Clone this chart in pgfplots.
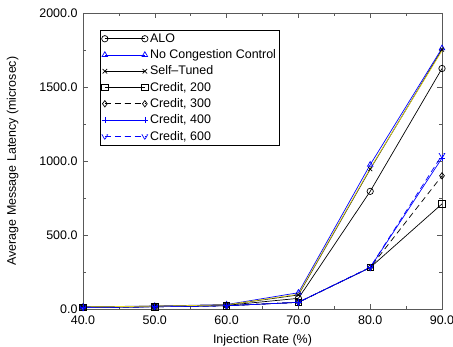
\documentclass[border=0pt]{standalone}
\usepackage{pgfplots}
\pgfplotsset{compat=1.18}
\usepackage{fontspec}
\setmainfont{Liberation Sans}
\begin{document}
\begin{tikzpicture}
\begin{axis}[
  scale only axis, width=359bp, height=296bp,
  xmin=40, xmax=90, ymin=0, ymax=2000,
  xtick={40,50,60,70,80,90}, ytick={0,500,1000,1500,2000},
  minor x tick num=1, minor y tick num=1,
  tick align=inside, tick pos=both,
  major tick length=5bp, minor tick length=3bp,
  axis line style={gray!70!black, line width=0.9pt},
  tick style={gray!70!black, line width=0.6pt},
  xticklabel style={yshift=-3bp, /pgf/number format/.cd, fixed, fixed zerofill, precision=1},
  yticklabel style={xshift=-2bp, /pgf/number format/.cd, fixed, fixed zerofill, precision=1, 1000 sep={}},
  /pgf/number format/assume math mode=true,
  font=\fontsize{12.5}{14}\selectfont,
  xlabel={Injection Rate (\%)}, ylabel={Average Message Latency (microsec)},
  xlabel style={yshift=-3bp}, ylabel style={yshift=14bp},
  legend cell align=left,
  legend style={at={(0.047,0.943)}, anchor=north west, draw=black, line width=0.6pt, inner sep=1.5pt, row sep=1.8pt, font=\fontsize{12.5}{14}\selectfont, /tikz/every even column/.append style={column sep=1pt}},
  legend image code/.code={\draw[mark repeat=2, mark phase=1, mark size=3.2pt, #1] plot coordinates {(0bp,0bp)(20bp,0bp)(40bp,0bp)};},
  every axis plot/.append style={line width=0.7pt, mark size=3.2pt, mark options={solid, line width=0.7pt, fill=none}},
]
\addplot[black, mark=o] coordinates {(40,12)(50,17)(60,25)(70,72)(80,795)(90,1625)};
\addlegendentry{ALO}
\addplot[blue, mark=triangle] coordinates {(40,15)(50,20)(60,30)(70,110)(80,975)(90,1762)};
\addlegendentry{No Congestion Control}
\addplot[black, mark=x, mark size=2.8pt] coordinates {(40,14)(50,19)(60,28)(70,95)(80,945)(90,1752)};
\addlegendentry{Self--Tuned}
\addplot[black, mark=square] coordinates {(40,10)(50,15)(60,22)(70,45)(80,280)(90,710)};
\addlegendentry{Credit, 200}
\addplot[black, dash pattern=on 6pt off 4pt, mark=diamond] coordinates {(40,10)(50,15)(60,22)(70,45)(80,280)(90,900)};
\addlegendentry{Credit, 300}
\addplot[blue, mark=+] coordinates {(40,10)(50,15)(60,22)(70,45)(80,280)(90,1020)};
\addlegendentry{Credit, 400}
\addplot[blue, dash pattern=on 6pt off 4pt, mark=triangle, mark options={rotate=180}] coordinates {(40,10)(50,15)(60,22)(70,45)(80,282)(90,1040)};
\addlegendentry{Credit, 600}
\addplot[yellow!85!black, forget plot] coordinates {(40,14)(50,19)(60,28)(70,100)(80,950)(90,1745)};
\end{axis}
\pgfresetboundingbox
\path (current axis.south west) ++(-83bp,-38bp) coordinate (bl);
\path (current axis.north east) ++(11bp,13bp) coordinate (tr);
\useasboundingbox (bl) rectangle (tr);
\end{tikzpicture}
\end{document}
